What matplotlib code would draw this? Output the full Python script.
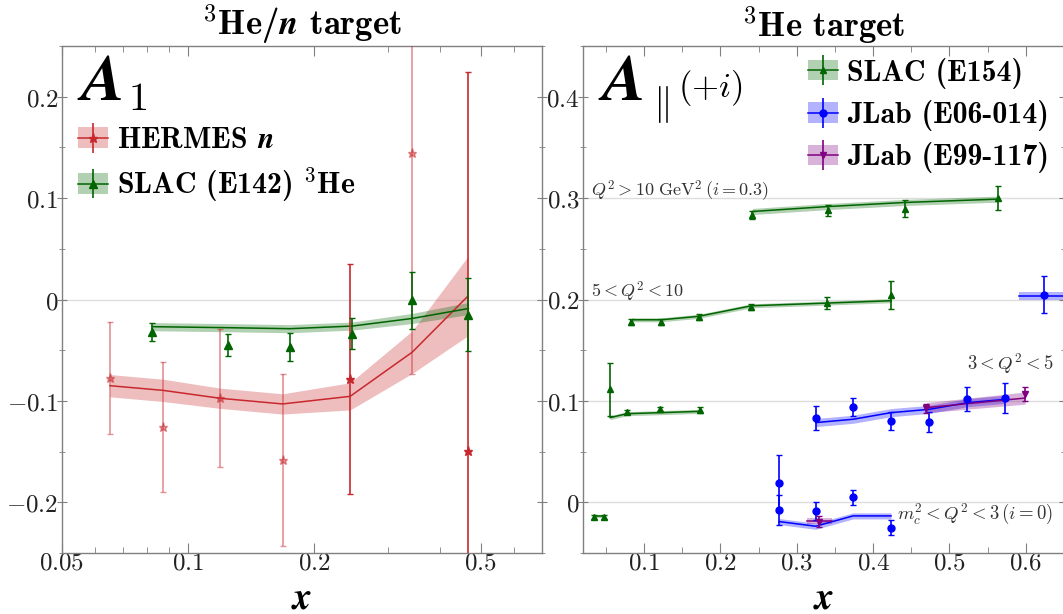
import numpy as np
import matplotlib.pyplot as plt
from matplotlib.patches import Patch
from matplotlib.lines import Line2D
from matplotlib.ticker import FixedLocator, MultipleLocator, FuncFormatter, NullFormatter, LogLocator

plt.rcParams['mathtext.fontset'] = 'cm'

# ---- left panel: A1 of the neutron / 3He ----
hermes_x = [0.0651, 0.0871, 0.1192, 0.1681, 0.2438, 0.3428, 0.465]
hermes_A1 = [-0.0775, -0.1259, -0.0974, -0.158, -0.0784, 0.1447, -0.1494]
hermes_err = [0.055, 0.064, 0.068, 0.085, 0.113, 0.218, 0.374]
hermes_fit = [-0.085, -0.0896, -0.0974, -0.103, -0.0955, -0.052, 0.003]
hermes_fit_err = [0.011, 0.011, 0.010, 0.010, 0.0134, 0.021, 0.039]

e142_x = [0.0821, 0.1243, 0.175, 0.2465, 0.3428, 0.4672]
e142_A1 = [-0.0321, -0.0451, -0.0468, -0.0337, -0.0007, -0.0151]
e142_err = [0.009, 0.0108, 0.0134, 0.015, 0.028, 0.036]
e142_fit = [-0.0268, -0.0278, -0.0288, -0.0262, -0.0187, -0.0089]
e142_fit_err = [0.004, 0.004, 0.004, 0.004, 0.005, 0.006]

# ---- right panel: A_par of 3He in Q^2 bins, shifted by i ----
q2_shift = [0.0, 0.1, 0.2, 0.3]

e154_x = [[0.0345, 0.0479],
          [0.0555, 0.0778, 0.1214, 0.1728],
          [0.0835, 0.1224, 0.1714, 0.2406, 0.34, 0.4234],
          [0.2419, 0.3413, 0.4416, 0.5638]]
e154_A = [[-0.0147, -0.0141],
          [0.0113, -0.0106, -0.0083, -0.0093],
          [-0.0225, -0.0225, -0.0173, -0.0075, -0.0035, 0.0043],
          [-0.0168, -0.0122, -0.0105, 0.0003]]
e154_err = [[0.002, 0.002],
            [0.0265, 0.002, 0.002, 0.003],
            [0.003, 0.003, 0.003, 0.003, 0.006, 0.0135],
            [0.004, 0.0056, 0.0083, 0.012]]
e154_fit_x = e154_x
e154_fit = [[-0.0138, -0.0138],
            [-0.0165, -0.0126, -0.0116, -0.0103],
            [-0.020, -0.020, -0.0166, -0.0062, -0.0035, -0.0012],
            [-0.0132, -0.0083, -0.0043, -0.001]]
e154_fit_err = [[0.0015, 0.0015],
                [0.002, 0.002, 0.002, 0.002],
                [0.002, 0.002, 0.002, 0.002, 0.002, 0.002],
                [0.003, 0.003, 0.003, 0.003]]

e06_x = [[0.2767, 0.2767, 0.3248, 0.3738, 0.4234],
         [0.3248, 0.3738, 0.4234, 0.4737, 0.5232, 0.5723],
         [0.6242],
         []]
e06_A = [[0.019, -0.0075, -0.0088, 0.0049, -0.0249],
         [-0.0172, -0.0057, -0.0198, -0.0211, 0.0022, 0.0028],
         [0.0049],
         []]
e06_err = [[0.0275, 0.015, 0.009, 0.0072, 0.0074],
           [0.0118, 0.009, 0.0087, 0.0098, 0.012, 0.0147],
           [0.018],
           []]
e06_fit_x = [[0.2767, 0.3248, 0.3738, 0.4234],
             [0.3248, 0.3738, 0.4234, 0.4737, 0.5232, 0.5723],
             [0.5917, 0.6567],
             []]
e06_fit = [[-0.019, -0.0236, -0.0134, -0.0134],
           [-0.0214, -0.0181, -0.0116, -0.0083, -0.0018, 0.0015],
           [0.0034, 0.0034],
           []]
e06_fit_err = [[0.003, 0.003, 0.003, 0.003],
               [0.004, 0.004, 0.004, 0.004, 0.004, 0.004],
               [0.0043, 0.0043],
               []]

e99_x = [[0.3293], [0.4694, 0.5992], [], []]
e99_A = [[-0.019], [-0.0073, 0.0071], [], []]
e99_err = [[0.005], [0.0045, 0.007], [], []]
e99_fit_x = [[0.3133, 0.3467], [0.4694, 0.5992], [], []]
e99_fit = [[-0.018, -0.018], [-0.0067, 0.0028], [], []]
e99_fit_err = [[0.003, 0.003], [0.005, 0.006], [], []]

red = '#c8282d'
green = '#006400'
blue = '#0000ff'
purple = '#800080'
spine_col = '#808080'
note_col = '#333333'


def band(ax, fx, fy, ferr, color, shift=0.0):
    fx = np.asarray(fx)
    fy = np.asarray(fy) + shift
    ferr = np.asarray(ferr)
    ax.fill_between(fx, fy - ferr, fy + ferr, color=color, alpha=0.3, lw=0, zorder=2)
    ax.plot(fx, fy, color=color, lw=1.1, zorder=3)


def points(ax, x, y, err, color, marker, ms, shift=0.0, alpha=1.0):
    y = np.asarray(y) + shift
    return ax.errorbar(x, y, yerr=err, fmt=marker, color=color, ms=ms, capsize=2,
                       elinewidth=1.2, capthick=1, alpha=alpha, zorder=4)


def style_axes(ax):
    for s in ax.spines.values():
        s.set_color(spine_col)
        s.set_linewidth(1.0)
    ax.tick_params(which='both', top=True, right=True, colors=spine_col,
                   labelcolor='#222222', labelsize=18)
    ax.tick_params(axis='x', which='both', direction='in')
    ax.tick_params(axis='y', which='both', direction='inout')
    ax.tick_params(which='major', length=7)
    ax.tick_params(which='minor', length=4)
    ax.tick_params(axis='x', pad=-2)
    ax.tick_params(axis='y', pad=-1)
    ax.xaxis.label.set_verticalalignment('center')
    ax.xaxis.set_label_coords(0.5, -0.089)


fmt = FuncFormatter(lambda v, p: f'${v:g}$')


def legend_handle(color, marker, ms):
    patch = Patch(facecolor=color, alpha=0.3, edgecolor='none')
    line = Line2D([], [], color=color, lw=1.1)
    eb = plt.gca().errorbar([], [], yerr=[], fmt=marker, color=color, ms=ms,
                            capsize=2, elinewidth=1.2)
    return (patch, line, eb)


leg_kw = dict(loc='upper left', frameon=False, prop={'family': 'cmb10', 'size': 21.5},
              borderpad=0, borderaxespad=0, handlelength=1.0, handleheight=0.68,
              handletextpad=0.3, labelspacing=0.38)

fig = plt.figure(figsize=(10.63, 6.14), dpi=100)
ax1 = fig.add_axes([62 / 1063, 61 / 614, 480 / 1063, 507 / 614])
ax2 = fig.add_axes([583 / 1063, 61 / 614, 481 / 1063, 507 / 614])

# left panel
plt.sca(ax1)
ax1.axhline(0, color='#dddddd', lw=1, zorder=0)
band(ax1, hermes_x, hermes_fit, hermes_fit_err, red)
band(ax1, e142_x, e142_fit, e142_fit_err, green)
hermes_alpha = [0.5, 0.5, 0.5, 0.5, 1.0, 0.5, 1.0]
for xi, yi, ei, al in zip(hermes_x, hermes_A1, hermes_err, hermes_alpha):
    points(ax1, [xi], [yi], [ei], red, '*', 6.5, alpha=al)
points(ax1, e142_x, e142_A1, e142_err, green, '^', 5.5)

ax1.set_xscale('log')
ax1.set_xlim(0.05, 0.7)
ax1.set_ylim(-0.25, 0.25)
ax1.xaxis.set_major_locator(FixedLocator([0.05, 0.1, 0.2, 0.5]))
ax1.xaxis.set_minor_locator(LogLocator(subs=np.arange(2, 10)))
ax1.xaxis.set_major_formatter(fmt)
ax1.xaxis.set_minor_formatter(NullFormatter())
ax1.yaxis.set_major_locator(MultipleLocator(0.1))
ax1.yaxis.set_minor_locator(MultipleLocator(0.05))
ax1.yaxis.set_major_formatter(fmt)
ax1.set_xlabel(r'$\boldsymbol{x}$', fontsize=27)
style_axes(ax1)
ax1.set_title(r'$^{3}$He/$\boldsymbol{n}$ target', fontfamily='cmb10', fontsize=25, pad=2)
ax1.text(0.031, 0.893, r'$\boldsymbol{A}$', transform=ax1.transAxes, fontsize=47,
         va='baseline', ha='left')
ax1.text(0.138, 0.874, r'$1$', transform=ax1.transAxes, fontsize=29,
         va='baseline', ha='left')

h1 = legend_handle(red, '*', 6.5)
h2 = legend_handle(green, '^', 5.5)
ax1.legend([h1, h2], ['HERMES $\\boldsymbol{n}$', 'SLAC (E142) $^{3}$He'],
           bbox_to_anchor=(0.033, 0.84), **leg_kw)

# right panel
plt.sca(ax2)
for s in q2_shift:
    ax2.axhline(s, color='#dddddd', lw=1, zorder=0)
for k, s in enumerate(q2_shift):
    if e154_x[k]:
        band(ax2, e154_fit_x[k], e154_fit[k], e154_fit_err[k], green, s)
        points(ax2, e154_x[k], e154_A[k], e154_err[k], green, '^', 5, s)
    if e06_x[k]:
        band(ax2, e06_fit_x[k], e06_fit[k], e06_fit_err[k], blue, s)
        points(ax2, e06_x[k], e06_A[k], e06_err[k], blue, 'o', 5, s)
    if e99_x[k]:
        band(ax2, e99_fit_x[k], e99_fit[k], e99_fit_err[k], purple, s)
        points(ax2, e99_x[k], e99_A[k], e99_err[k], purple, 'v', 5, s)

ax2.set_xlim(0.02, 0.65)
ax2.set_ylim(-0.05, 0.45)
ax2.xaxis.set_major_locator(MultipleLocator(0.1))
ax2.xaxis.set_minor_locator(MultipleLocator(0.05))
ax2.xaxis.set_major_formatter(fmt)
ax2.yaxis.set_major_locator(MultipleLocator(0.1))
ax2.yaxis.set_minor_locator(MultipleLocator(0.05))
ax2.yaxis.set_major_formatter(fmt)
ax2.set_xlabel(r'$\boldsymbol{x}$', fontsize=27)
style_axes(ax2)
ax2.set_title(r'$^{3}$He target', fontfamily='cmb10', fontsize=25, pad=2)
ax2.text(0.031, 0.893, r'$\boldsymbol{A}$', transform=ax2.transAxes, fontsize=47,
         va='baseline', ha='left')
ax2.text(0.146, 0.884, r'$\Vert$', transform=ax2.transAxes, fontsize=27,
         va='center', ha='left')
ax2.text(0.197, 0.918, r'$(+i)$', transform=ax2.transAxes, fontsize=25,
         va='center', ha='left')

ax2.text(0.031, 0.302, r'$Q^2 > 10\ \mathrm{GeV}^2\,(i=0.3)$', fontsize=13, color=note_col)
ax2.text(0.031, 0.202, r'$5 < Q^2 < 10$', fontsize=13, color=note_col)
ax2.text(0.636, 0.130, r'$3 < Q^2 < 5$', fontsize=13.5, color=note_col, ha='right')
ax2.text(0.636, -0.017, r'$m_c^2 < Q^2 < 3\,(i=0)$', fontsize=13.5, color=note_col, ha='right')

h3 = legend_handle(green, '^', 5)
h4 = legend_handle(blue, 'o', 5)
h5 = legend_handle(purple, 'v', 5)
ax2.legend([h3, h4, h5], ['SLAC (E154)', 'JLab (E06-014)', 'JLab (E99-117)'],
           bbox_to_anchor=(0.468, 0.977), **leg_kw)

fig.savefig('out.png', dpi=100)
